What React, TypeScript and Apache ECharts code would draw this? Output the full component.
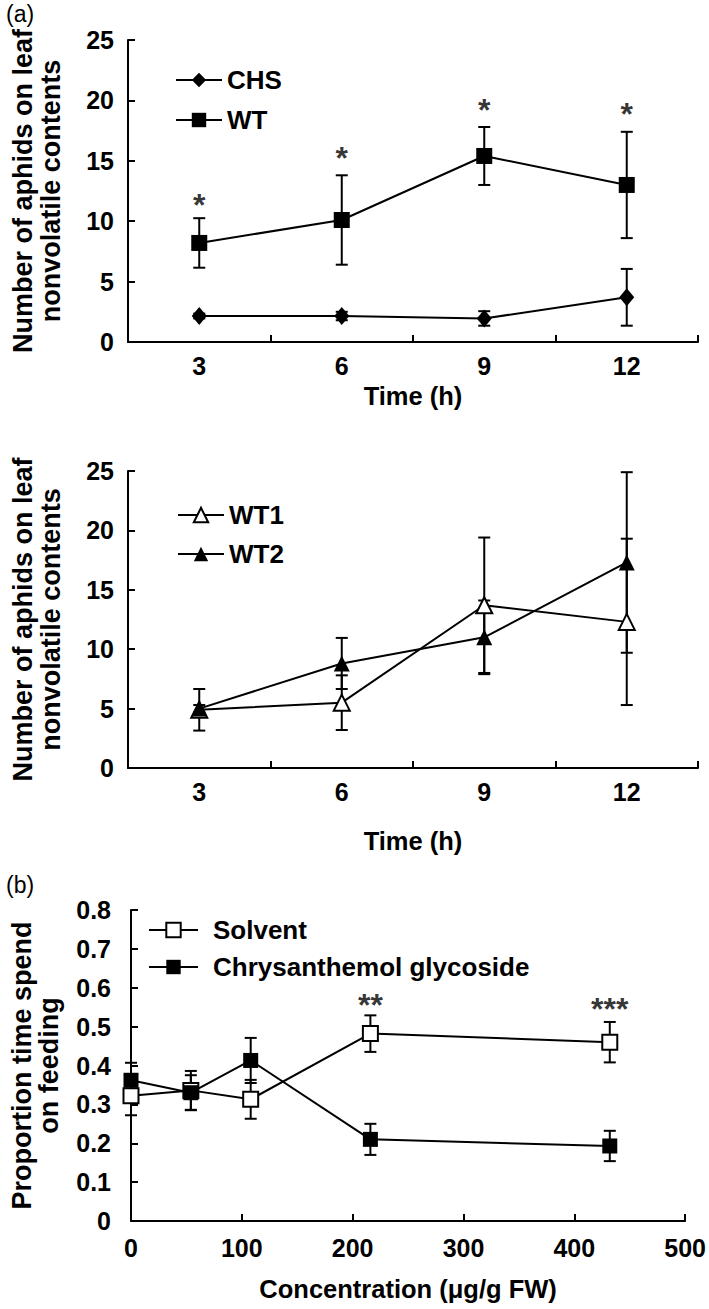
import React, { useEffect, useRef } from "react";
import * as echarts from "echarts";

// ---------- data ----------
const timeCategories = ["3", "6", "9", "12"];
const timeIndex = [0, 1, 2, 3];

// panel (a) top
const chsMean = [2.15, 2.15, 1.95, 3.7];
const chsSd = [0.2, 0.35, 0.6, 2.35];
const wtMean = [8.2, 10.1, 15.4, 13.0];
const wtSd = [2.05, 3.7, 2.4, 4.4];
const topStarY = [12.0, 15.9, 19.9, 19.5];
const topStarText = ["*", "*", "*", "*"];

// panel (a) bottom
const wt1Mean = [4.9, 5.5, 13.7, 12.3];
const wt1Sd = [1.75, 2.3, 5.7, 7.0];
const wt2Mean = [5.0, 8.8, 11.0, 17.3];
const wt2Sd = [0.3, 2.15, 3.1, 7.6];

// panel (b)
const concentrations = [0, 54, 108, 216, 432];
const solventMean = [0.322, 0.336, 0.313, 0.482, 0.46];
const solventSd = [0.05, 0.05, 0.05, 0.047, 0.052];
const glycosideMean = [0.362, 0.33, 0.413, 0.21, 0.193];
const glycosideSd = [0.045, 0.045, 0.058, 0.04, 0.039];
const bStarX = [216, 432];
const bStarY = [0.575, 0.565];
const bStarText = ["**", "***"];

const FONT = "'Liberation Sans', Arial, Helvetica, sans-serif";
const BLACK = "#000";

function errorBars(xs: number[], mean: number[], sd: number[], axis: number) {
  return {
    type: "custom",
    xAxisIndex: axis,
    yAxisIndex: axis,
    z: 2,
    silent: true,
    data: xs.map((x, i) => [x, mean[i] - sd[i], mean[i] + sd[i]]),
    encode: { x: 0, y: [1, 2] },
    renderItem: (params: any, api: any) => {
      const lo = api.coord([api.value(0), api.value(1)]);
      const hi = api.coord([api.value(0), api.value(2)]);
      const w = 6;
      const st = { stroke: BLACK, lineWidth: 2 };
      return {
        type: "group",
        children: [
          { type: "line", shape: { x1: lo[0], y1: lo[1], x2: hi[0], y2: hi[1] }, style: st },
          { type: "line", shape: { x1: lo[0] - w, y1: lo[1], x2: lo[0] + w, y2: lo[1] }, style: st },
          { type: "line", shape: { x1: hi[0] - w, y1: hi[1], x2: hi[0] + w, y2: hi[1] }, style: st },
        ],
      };
    },
  };
}

function lineSeries(name: string, data: any[], axis: number, symbol: string, size: any, filled: boolean) {
  return {
    type: "line",
    name,
    xAxisIndex: axis,
    yAxisIndex: axis,
    data,
    z: 3,
    symbol,
    symbolSize: size,
    showAllSymbol: true,
    lineStyle: { color: BLACK, width: 2 },
    itemStyle: { color: filled ? BLACK : "#fff", borderColor: BLACK, borderWidth: filled ? 0 : 2 },
    emphasis: { disabled: true },
  };
}

function stars(xs: number[], ys: number[], texts: string[], axis: number) {
  return {
    type: "scatter",
    xAxisIndex: axis,
    yAxisIndex: axis,
    z: 4,
    silent: true,
    symbolSize: 0,
    data: xs.map((x, i) => [x, ys[i]]),
    label: {
      show: true,
      position: "inside",
      formatter: (p: any) => texts[p.dataIndex],
      fontSize: 32,
      fontWeight: "bold",
      fontFamily: FONT,
      color: BLACK,
      offset: [0, 8],
    },
  };
}

const tickLabel = { color: BLACK, fontSize: 25, fontWeight: "bold", fontFamily: FONT };
const axisLine = { show: true, lineStyle: { color: BLACK, width: 2 } };
const axisTick = { show: true, inside: true, length: 7, lineStyle: { color: BLACK, width: 2 } };
const nameStyle = { color: BLACK, fontSize: 25.5, fontWeight: "bold", fontFamily: FONT };
const yNameStyle = { color: BLACK, fontSize: 27, fontWeight: "bold", fontFamily: FONT };
const legendText = { color: BLACK, fontSize: 26, fontWeight: "bold", fontFamily: FONT, lineHeight: 26 };

export default function App() {
  const ref = useRef<HTMLDivElement>(null);
  useEffect(() => {
    if (!ref.current) return;
    const chart = echarts.init(ref.current, null, { renderer: "svg" });
    const option: any = {
      animation: false,
      backgroundColor: "#fff",
      grid: [
        { left: 128, top: 40, width: 570, height: 302 },
        { left: 128, top: 471, width: 570, height: 297 },
        { left: 127, top: 910, width: 573, height: 311 },
      ],
      xAxis: [
        {
          gridIndex: 0,
          type: "category",
          data: timeCategories,
          boundaryGap: true,
          axisLine,
          axisTick,
          axisLabel: { ...tickLabel, margin: 11 },
          name: "Time (h)",
          nameLocation: "middle",
          nameGap: 41,
          nameTextStyle: nameStyle,
        },
        {
          gridIndex: 1,
          type: "category",
          data: timeCategories,
          boundaryGap: true,
          axisLine,
          axisTick,
          axisLabel: { ...tickLabel, margin: 11 },
          name: "Time (h)",
          nameLocation: "middle",
          nameGap: 60,
          nameTextStyle: nameStyle,
        },
        {
          gridIndex: 2,
          type: "value",
          min: 0,
          max: 500,
          interval: 100,
          axisLine,
          axisTick,
          splitLine: { show: false },
          axisLabel: { ...tickLabel, margin: 14 },
          name: "Concentration (\u03bcg/g FW)",
          nameLocation: "middle",
          nameGap: 55,
          nameTextStyle: nameStyle,
        },
      ],
      yAxis: [
        {
          gridIndex: 0,
          type: "value",
          min: 0,
          max: 25,
          interval: 5,
          axisLine,
          axisTick,
          splitLine: { show: false },
          axisLabel: { ...tickLabel, margin: 14 },
          name: "Number of aphids on leaf\nnonvolatile contents",
          nameLocation: "middle",
          nameRotate: 90,
          nameGap: 63,
          nameTextStyle: { ...yNameStyle, lineHeight: 28 },
        },
        {
          gridIndex: 1,
          type: "value",
          min: 0,
          max: 25,
          interval: 5,
          axisLine,
          axisTick,
          splitLine: { show: false },
          axisLabel: { ...tickLabel, margin: 14 },
          name: "Number of aphids on leaf\nnonvolatile contents",
          nameLocation: "middle",
          nameRotate: 90,
          nameGap: 63,
          nameTextStyle: { ...yNameStyle, lineHeight: 28 },
        },
        {
          gridIndex: 2,
          type: "value",
          min: 0,
          max: 0.8,
          interval: 0.1,
          axisLine,
          axisTick,
          splitLine: { show: false },
          axisLabel: { ...tickLabel, margin: 20 },
          name: "Proportion time spend\non feeding",
          nameLocation: "middle",
          nameRotate: 90,
          nameGap: 69,
          nameTextStyle: { ...yNameStyle, lineHeight: 27 },
        },
      ],
      legend: [
        {
          data: ["CHS", "WT"],
          orient: "vertical",
          left: 170,
          top: 62,
          itemWidth: 46,
          itemHeight: 18,
          itemGap: 14,
          selectedMode: false,
          textStyle: legendText,
        },
        {
          data: ["WT1", "WT2"],
          orient: "vertical",
          left: 172,
          top: 497,
          itemWidth: 46,
          itemHeight: 18,
          itemGap: 13,
          selectedMode: false,
          textStyle: legendText,
        },
        {
          data: ["Solvent", "Chrysanthemol glycoside"],
          orient: "vertical",
          left: 143,
          top: 912,
          itemWidth: 49,
          itemHeight: 18,
          itemGap: 11,
          selectedMode: false,
          textStyle: { ...legendText, padding: [0, 0, 0, 10] },
        },
      ],
      graphic: [
        { type: "text", left: 6, top: 2, style: { text: "(a)", fontSize: 23, fontFamily: FONT, fill: BLACK } },
        { type: "text", left: 6, top: 873, style: { text: "(b)", fontSize: 23, fontFamily: FONT, fill: BLACK } },
      ],
      series: [
        errorBars(timeIndex, chsMean, chsSd, 0),
        errorBars(timeIndex, wtMean, wtSd, 0),
        lineSeries("CHS", chsMean, 0, "diamond", [15, 18], true),
        lineSeries("WT", wtMean, 0, "rect", 16, true),
        stars(timeIndex, topStarY, topStarText, 0),

        errorBars(timeIndex, wt1Mean, wt1Sd, 1),
        errorBars(timeIndex, wt2Mean, wt2Sd, 1),
        lineSeries("WT1", wt1Mean, 1, "triangle", 16, false),
        lineSeries("WT2", wt2Mean, 1, "triangle", 16, true),

        errorBars(concentrations, solventMean, solventSd, 2),
        errorBars(concentrations, glycosideMean, glycosideSd, 2),
        lineSeries("Solvent", concentrations.map((c, i) => [c, solventMean[i]]), 2, "rect", 15, false),
        lineSeries("Chrysanthemol glycoside", concentrations.map((c, i) => [c, glycosideMean[i]]), 2, "rect", 15, true),
        stars(bStarX, bStarY, bStarText, 2),
      ],
    };
    chart.setOption(option);
    return () => chart.dispose();
  }, []);
  return (
    <div
      ref={ref}
      style={{ position: "fixed", left: 0, top: 0, width: 709, height: 1309, background: "#fff" }}
    />
  );
}
